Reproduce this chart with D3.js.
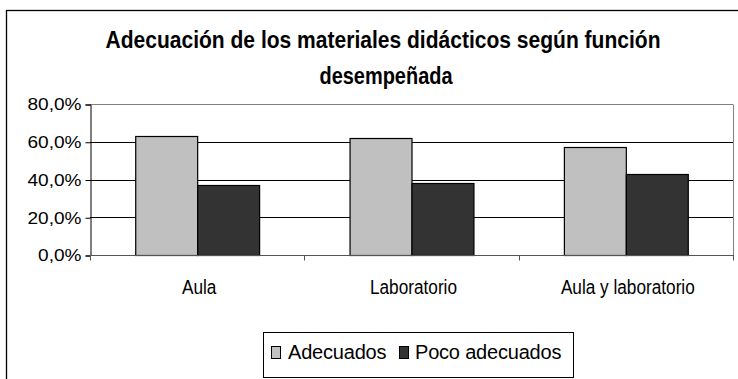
<!DOCTYPE html>
<html>
<head>
<meta charset="utf-8">
<script src="https://cdn.jsdelivr.net/npm/d3@7"></script>
<style>
  body { margin: 0; background: #fff; }
  text { font-family: "Liberation Sans", Arial, sans-serif; }
</style>
</head>
<body>
<div id="chart"></div>
<script>
var categories = ["Aula", "Laboratorio", "Aula y laboratorio"];
var seriesNames = ["Adecuados", "Poco adecuados"];
var adecuados = [0.63, 0.62, 0.57];
var pocoAdecuados = [0.37, 0.38, 0.43];
var yTicks = [0, 0.2, 0.4, 0.6, 0.8];

var width = 738, height = 379;
var plot = { left: 90, right: 733, top: 104, bottom: 255 };
var colors = ["#c0c0c0", "#333333"];

var svg = d3.select("#chart").append("svg")
    .attr("width", width)
    .attr("height", height);

// chart frame (runs off the right and bottom edges)
svg.append("rect")
    .attr("x", 6.5).attr("y", 10.5)
    .attr("width", 760).attr("height", 400)
    .attr("fill", "#fff")
    .attr("stroke", "#000")
    .attr("stroke-width", 1.3);

// title, squeezed like the original
var title = svg.append("text")
    .attr("text-anchor", "middle")
    .attr("font-weight", "bold")
    .attr("font-size", 23)
    .attr("fill", "#000");
title.append("tspan").attr("x", 383).attr("y", 48)
    .attr("textLength", 555).attr("lengthAdjust", "spacingAndGlyphs")
    .text("Adecuación de los materiales didácticos según función");
title.append("tspan").attr("x", 386).attr("y", 84)
    .attr("textLength", 133).attr("lengthAdjust", "spacingAndGlyphs")
    .text("desempeñada");

var y = d3.scaleLinear().domain([0, 0.8]).range([plot.bottom, plot.top]);
var x0 = d3.scaleBand().domain(categories).range([plot.left, plot.right]);
var x1 = d3.scaleBand().domain(seriesNames)
    .range([0, x0.bandwidth()]).paddingOuter(0.73);

// gridlines
svg.append("g").selectAll("line")
    .data(yTicks.filter(d => d > 0))
    .enter().append("line")
    .attr("x1", plot.left).attr("x2", plot.right)
    .attr("y1", d => Math.round(y(d)) + 0.5)
    .attr("y2", d => Math.round(y(d)) + 0.5)
    .attr("stroke", d => d === 0.8 ? "#808080" : "#000")
    .attr("stroke-width", 1);

// right border of plot area
svg.append("line")
    .attr("x1", plot.right + 0.5).attr("x2", plot.right + 0.5)
    .attr("y1", plot.top + 0.5).attr("y2", plot.bottom)
    .attr("stroke", "#808080");

// bars
var rows = categories.map((c, i) => ({ cat: c, values: [adecuados[i], pocoAdecuados[i]] }));
svg.append("g").selectAll("g")
    .data(rows)
    .enter().append("g")
    .attr("transform", d => "translate(" + x0(d.cat) + ",0)")
    .selectAll("rect")
    .data(d => d.values.map((v, j) => ({ name: seriesNames[j], v: v, j: j })))
    .enter().append("rect")
    .attr("x", d => x1(d.name) + 0.5)
    .attr("y", d => Math.round(y(d.v)) + 0.5)
    .attr("width", x1.bandwidth())
    .attr("height", d => plot.bottom - Math.round(y(d.v)))
    .attr("fill", d => colors[d.j])
    .attr("stroke", "#000")
    .attr("stroke-width", 1.2);

// y axis
var yAxis = svg.append("g")
    .attr("transform", "translate(" + (plot.left + 0.5) + ",0.5)")
    .call(d3.axisLeft(y).tickValues(yTicks).tickSize(5).tickPadding(4)
        .tickFormat(d => d3.format(".1f")(d * 100).replace(".", ",") + "%"));
yAxis.select(".domain").attr("stroke", "#000");
yAxis.selectAll(".tick line").attr("stroke", "#000");
yAxis.selectAll("text")
    .attr("font-size", 17)
    .attr("font-family", "Liberation Sans, Arial, sans-serif")
    .attr("fill", "#000")
    .each(function () {
        var w = this.getComputedTextLength();
        d3.select(this).attr("textLength", w * 1.12).attr("lengthAdjust", "spacingAndGlyphs");
    });

// x axis
var xAxis = svg.append("g")
    .attr("transform", "translate(0," + (plot.bottom + 0.5) + ")");
xAxis.append("line")
    .attr("x1", plot.left).attr("x2", plot.right + 1)
    .attr("stroke", "#555");
xAxis.selectAll(".xt")
    .data(categories.map(c => x0(c)).concat([plot.right]))
    .enter().append("line")
    .attr("class", "xt")
    .attr("x1", d => Math.round(d) + 0.5).attr("x2", d => Math.round(d) + 0.5)
    .attr("y1", 0).attr("y2", 5)
    .attr("stroke", "#555");
xAxis.selectAll(".xl")
    .data(categories)
    .enter().append("text")
    .attr("class", "xl")
    .attr("x", d => x0(d) + x0.bandwidth() / 2 + 2)
    .attr("y", 38)
    .attr("text-anchor", "middle")
    .attr("font-size", 20)
    .attr("fill", "#000")
    .text(d => d)
    .each(function () {
        var w = this.getComputedTextLength();
        d3.select(this).attr("textLength", w * 0.86).attr("lengthAdjust", "spacingAndGlyphs");
    });

// legend
var legend = svg.append("g");
legend.append("rect")
    .attr("x", 263.5).attr("y", 332.5)
    .attr("width", 310).attr("height", 45)
    .attr("fill", "#fff")
    .attr("stroke", "#000");
var legendX = [271, 399];
var items = legend.selectAll(".li")
    .data(seriesNames)
    .enter().append("g")
    .attr("class", "li")
    .attr("transform", (d, i) => "translate(" + legendX[i] + ",346)");
items.append("rect")
    .attr("x", 0.5).attr("y", 0.5)
    .attr("width", 9).attr("height", 12)
    .attr("fill", (d, i) => colors[i])
    .attr("stroke", "#000");
items.append("text")
    .attr("x", (d, i) => i === 0 ? 17 : 16)
    .attr("y", 12.5)
    .attr("font-size", 20)
    .attr("letter-spacing", -0.2)
    .attr("fill", "#000")
    .text(d => d);
</script>
</body>
</html>
